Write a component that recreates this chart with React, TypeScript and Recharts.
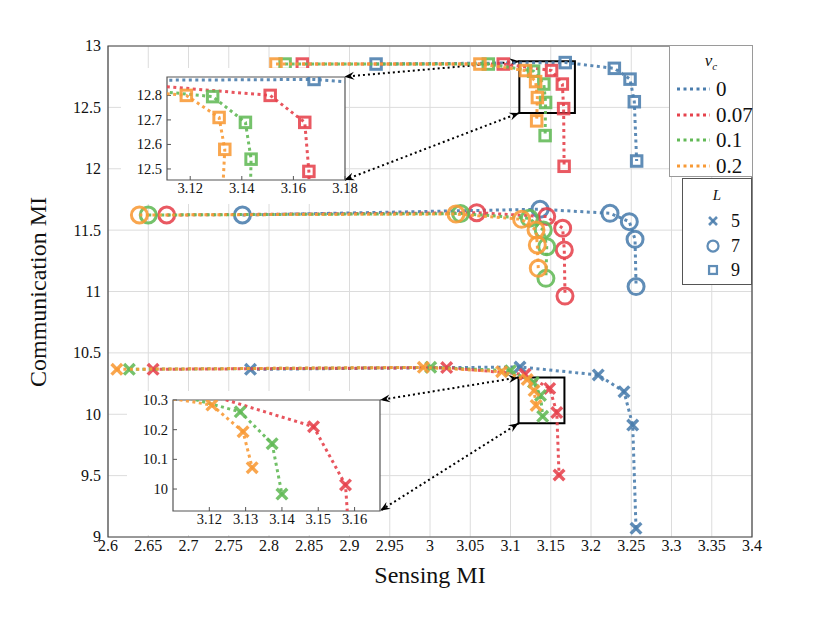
import React from 'react';
import {
  ScatterChart, Scatter, XAxis, YAxis, CartesianGrid, ReferenceArea, ReferenceLine
} from 'recharts';

// legend entries
const nuLabels = ['0', '0.07', '0.1', '0.2'];
const nuColors = ['#4A7DAD', '#E6424C', '#62B956', '#F89A36'];
const lLabels = ['5', '7', '9'];

// L = 5 (crosses)
const cross_nu0 = [
  { x: 2.777, y: 10.366 }, { x: 3.1118, y: 10.385 }, { x: 3.209, y: 10.32 },
  { x: 3.241, y: 10.184 }, { x: 3.2518, y: 9.912 }, { x: 3.2559, y: 9.071 },
];
const cross_nu007 = [
  { x: 2.656, y: 10.366 }, { x: 3.0207, y: 10.38 }, { x: 3.118, y: 10.325 },
  { x: 3.1487, y: 10.21 }, { x: 3.1575, y: 10.014 }, { x: 3.1603, y: 9.505 },
];
const cross_nu01 = [
  { x: 2.6265, y: 10.366 }, { x: 3.0009, y: 10.382 }, { x: 3.1, y: 10.355 },
  { x: 3.1285, y: 10.26 }, { x: 3.1373, y: 10.153 }, { x: 3.14, y: 9.983 },
];
const cross_nu02 = [
  { x: 2.611, y: 10.366 }, { x: 2.9917, y: 10.382 }, { x: 3.089, y: 10.347 },
  { x: 3.1207, y: 10.283 }, { x: 3.1293, y: 10.193 }, { x: 3.1318, y: 10.072 },
];

// L = 7 (circles)
const circ_nu0 = [
  { x: 2.767, y: 11.623 }, { x: 3.1367, y: 11.67 }, { x: 3.2236, y: 11.637 },
  { x: 3.2476, y: 11.569 }, { x: 3.2547, y: 11.425 }, { x: 3.256, y: 11.04 },
];
const circ_nu007 = [
  { x: 2.6729, y: 11.623 }, { x: 3.058, y: 11.642 }, { x: 3.145, y: 11.61 },
  { x: 3.1648, y: 11.515 }, { x: 3.1668, y: 11.338 }, { x: 3.1677, y: 10.963 },
];
const circ_nu01 = [
  { x: 2.65, y: 11.623 }, { x: 3.038, y: 11.635 }, { x: 3.1234, y: 11.596 },
  { x: 3.1407, y: 11.501 }, { x: 3.145, y: 11.365 }, { x: 3.144, y: 11.107 },
];
const circ_nu02 = [
  { x: 2.639, y: 11.623 }, { x: 3.0323, y: 11.631 }, { x: 3.1138, y: 11.588 },
  { x: 3.1317, y: 11.501 }, { x: 3.1333, y: 11.379 }, { x: 3.1345, y: 11.189 },
];

// L = 9 (squares)
const sq_nu0 = [
  { x: 2.933, y: 12.853 }, { x: 3.168, y: 12.865 }, { x: 3.229, y: 12.818 },
  { x: 3.2485, y: 12.73 }, { x: 3.2538, y: 12.546 }, { x: 3.2567, y: 12.063 },
];
const sq_nu007 = [
  { x: 2.8414, y: 12.853 }, { x: 3.091, y: 12.853 }, { x: 3.151, y: 12.8 },
  { x: 3.1644, y: 12.69 }, { x: 3.166, y: 12.49 }, { x: 3.1666, y: 12.02 },
];
const sq_nu01 = [
  { x: 2.82, y: 12.853 }, { x: 3.0724, y: 12.853 }, { x: 3.1287, y: 12.795 },
  { x: 3.1414, y: 12.69 }, { x: 3.1436, y: 12.54 }, { x: 3.143, y: 12.27 },
];
const sq_nu02 = [
  { x: 2.8087, y: 12.853 }, { x: 3.062, y: 12.853 }, { x: 3.1185, y: 12.8 },
  { x: 3.1312, y: 12.71 }, { x: 3.1334, y: 12.58 }, { x: 3.1325, y: 12.39 },
];

const crossSeries = [cross_nu0, cross_nu007, cross_nu01, cross_nu02];
const circSeries = [circ_nu0, circ_nu007, circ_nu01, circ_nu02];
const sqSeries = [sq_nu0, sq_nu007, sq_nu01, sq_nu02];

// main axes
const xDomain = [2.6, 3.4];
const yDomain = [9, 13];
const xTicks = [2.6, 2.65, 2.7, 2.75, 2.8, 2.85, 2.9, 2.95, 3, 3.05, 3.1, 3.15, 3.2, 3.25, 3.3, 3.35, 3.4];
const yTicks = [9, 9.5, 10, 10.5, 11, 11.5, 12, 12.5, 13];

// zoomed windows
const topZoomX = [3.111, 3.18];
const topZoomY = [12.455, 12.875];
const topZoomXTicks = [3.12, 3.14, 3.16, 3.18];
const topZoomYTicks = [12.5, 12.6, 12.7, 12.8];
const lowZoomX = [3.11, 3.167];
const lowZoomY = [9.926, 10.3];
const lowZoomXTicks = [3.12, 3.13, 3.14, 3.15, 3.16];
const lowZoomYTicks = [10, 10.1, 10.2, 10.3];

// where the insets sit, in main-chart units
const topInsetAt = { x: [2.673, 2.8935], y: [11.908, 12.75] };
const lowInsetAt = { x: [2.6804, 2.938], y: [9.214, 10.116] };

// main plot box in container pixels
const W = 814;
const H = 607;
const M = { top: 38, right: 70, bottom: 48, left: 40 };
const Y_W = 60;
const X_H = 30;
const plotL = M.left + Y_W;
const plotT = M.top;
const plotW = W - M.right - plotL;
const plotH = H - M.bottom - X_H - plotT;
const px = (v: number) => plotL + ((v - xDomain[0]) / (xDomain[1] - xDomain[0])) * plotW;
const py = (v: number) => plotT + ((yDomain[1] - v) / (yDomain[1] - yDomain[0])) * plotH;

const FONT = '"Liberation Serif", "DejaVu Serif", serif';
const DASH = '3 3.5';

const makeTick = (size: number, axis: 'x' | 'y') => (props: any) => {
  const { x, y, payload, textAnchor } = props;
  return (
    <text x={x} y={y} textAnchor={axis === 'x' ? 'middle' : textAnchor || 'end'}
      dy={axis === 'x' ? '0.71em' : '0.34em'} fontFamily={FONT} fontSize={size} fill="#111">
      {payload.value}
    </text>
  );
};

const Marker = ({ cx, cy, kind, color, small }: any) => {
  if (cx == null || cy == null) return null;
  const k = small ? 0.75 : 1;
  if (kind === 'cross') {
    const a = 5.3 * k;
    return (
      <g stroke={color} strokeWidth={3.4 * k} strokeOpacity={0.88}>
        <line x1={cx - a} y1={cy - a} x2={cx + a} y2={cy + a} />
        <line x1={cx - a} y1={cy + a} x2={cx + a} y2={cy - a} />
      </g>
    );
  }
  if (kind === 'circle') {
    return <circle cx={cx} cy={cy} r={8 * k - (small ? 0.5 : 0)} fill="none" stroke={color} strokeWidth={3 * k} strokeOpacity={0.88} />;
  }
  const s = 10.5 * k;
  return <rect x={cx - s / 2} y={cy - s / 2} width={s} height={s} fill="none" stroke={color} strokeWidth={3 * k} strokeOpacity={0.88} />;
};

const renderGroup = (series: any[], kind: string, tag: string) =>
  series.map((data, i) => (
    <Scatter
      key={`${tag}-${kind}-${i}`}
      data={data}
      line={{ stroke: nuColors[i], strokeWidth: 3, strokeDasharray: DASH, strokeOpacity: 0.9 }}
      lineType="joint"
      shape={(p: any) => <Marker cx={p.cx} cy={p.cy} kind={kind} color={nuColors[i]} />}
      isAnimationActive={false}
    />
  ));

// dotted connector with a head at both ends
const Connector = (props: any) => {
  const x1 = Number(props.x1);
  const y1 = Number(props.y1);
  const x2 = Number(props.x2);
  const y2 = Number(props.y2);
  if (!isFinite(x1)) return null;
  const a = Math.atan2(y2 - y1, x2 - x1);
  const head = (x: number, y: number, t: number) => {
    const len = 10;
    const w = 4;
    const bx = x - len * Math.cos(t);
    const by = y - len * Math.sin(t);
    return `${x},${y} ${bx - w * Math.sin(t)},${by + w * Math.cos(t)} ${x - 6.5 * Math.cos(t)},${y - 6.5 * Math.sin(t)} ${bx + w * Math.sin(t)},${by - w * Math.cos(t)}`;
  };
  return (
    <g>
      <line x1={x1} y1={y1} x2={x2} y2={y2} stroke="#000" strokeWidth={2} strokeDasharray="2 3" />
      <polygon points={head(x2, y2, a)} fill="#000" />
      <polygon points={head(x1, y1, a + Math.PI)} fill="#000" />
    </g>
  );
};

const Inset = ({ at, xd, yd, xt, yt, series, kind }: any) => {
  const l = px(at.x[0]);
  const r = px(at.x[1]);
  const t = py(at.y[1]);
  const b = py(at.y[0]);
  const yw = 46;
  const xh = 24;
  const mt = 9;
  const mr = 14;
  const left = Math.round(l - yw);
  const top = Math.round(t - mt);
  const w = Math.round(r - l + yw + mr);
  const h = Math.round(b - t + xh + mt);
  return (
    <>
      <div style={{ position: 'absolute', left, top, width: w - mr, height: h, background: '#fff' }} />
      <div style={{ position: 'absolute', left, top }}>
        <ScatterChart width={w} height={h} margin={{ top: mt, right: mr, bottom: 0, left: 0 }}>
          <XAxis type="number" dataKey="x" domain={xd} ticks={xt} interval={0} allowDataOverflow
            height={xh} axisLine={false} tickSize={-4} tickMargin={7} tickLine={{ stroke: '#555' }} tick={makeTick(14.5, 'x')} />
          <YAxis type="number" dataKey="y" domain={yd} ticks={yt} interval={0} allowDataOverflow
            width={yw} axisLine={false} tickSize={-4} tickMargin={9} tickLine={{ stroke: '#555' }} tick={makeTick(14.5, 'y')} />
          {renderGroup(series, kind, 'inset')}
          <ReferenceArea x1={xd[0]} x2={xd[1]} y1={yd[0]} y2={yd[1]} fill="none" stroke="#555" strokeWidth={1.2} fillOpacity={0} />
        </ScatterChart>
      </div>
    </>
  );
};

const App = () => {
  return (
    <div style={{ position: 'relative', width: W, height: H, fontFamily: FONT, color: '#111' }}>
      <ScatterChart width={W} height={H} margin={M}>
        <CartesianGrid stroke="#dcdcdc" strokeWidth={1} />
        <XAxis type="number" dataKey="x" domain={xDomain} ticks={xTicks} interval={0}
          height={X_H} axisLine={false} tickLine={false} tickSize={0} tickMargin={3} tick={makeTick(16, 'x')} />
        <YAxis type="number" dataKey="y" domain={yDomain} ticks={yTicks} interval={0}
          width={Y_W} axisLine={false} tickLine={false} tickSize={0} tickMargin={7} tick={makeTick(16, 'y')} />
        <ReferenceArea x1={xDomain[0]} x2={xDomain[1]} y1={yDomain[0]} y2={yDomain[1]}
          fill="none" fillOpacity={0} stroke="#444" strokeWidth={1.2} />
        {renderGroup(sqSeries, 'square', 'main')}
        {renderGroup(circSeries, 'circle', 'main')}
        {renderGroup(crossSeries, 'cross', 'main')}
        <ReferenceArea x1={topZoomX[0]} x2={topZoomX[1]} y1={topZoomY[0]} y2={topZoomY[1]}
          fill="none" fillOpacity={0} stroke="#000" strokeWidth={2} />
        <ReferenceArea x1={lowZoomX[0]} x2={lowZoomX[1]} y1={lowZoomY[0]} y2={lowZoomY[1]}
          fill="none" fillOpacity={0} stroke="#000" strokeWidth={2} />
        <ReferenceLine segment={[{ x: topZoomX[0], y: topZoomY[1] }, { x: topInsetAt.x[1], y: topInsetAt.y[1] }]} shape={Connector} />
        <ReferenceLine segment={[{ x: topZoomX[0], y: topZoomY[0] }, { x: topInsetAt.x[1], y: topInsetAt.y[0] }]} shape={Connector} />
        <ReferenceLine segment={[{ x: lowZoomX[0], y: lowZoomY[1] }, { x: lowInsetAt.x[1], y: lowInsetAt.y[1] }]} shape={Connector} />
        <ReferenceLine segment={[{ x: lowZoomX[0], y: lowZoomY[0] }, { x: lowInsetAt.x[1], y: lowInsetAt.y[0] }]} shape={Connector} />
      </ScatterChart>

      <Inset at={topInsetAt} xd={topZoomX} yd={topZoomY} xt={topZoomXTicks} yt={topZoomYTicks} series={sqSeries} kind="square" />
      <Inset at={lowInsetAt} xd={lowZoomX} yd={lowZoomY} xt={lowZoomXTicks} yt={lowZoomYTicks} series={crossSeries} kind="cross" />

      {/* axis titles */}
      <div style={{ position: 'absolute', left: plotL + plotW / 2 - 150, top: 553, width: 300, textAlign: 'center', fontSize: 24, lineHeight: '28px' }}>
        Sensing MI
      </div>
      <div style={{
        position: 'absolute', left: 30 - 150, top: plotT + plotH / 2 - 14, width: 300, height: 28,
        textAlign: 'center', fontSize: 24, lineHeight: '28px', transform: 'rotate(-90deg)'
      }}>
        Communication MI
      </div>

      {/* nu_c legend */}
      <div style={{ position: 'absolute', left: 661, top: 37, width: 82, height: 130, background: '#fff', border: '1.5px solid #9a9a9a' }}>
        <div style={{ position: 'absolute', left: 0, width: 82, top: 5, textAlign: 'center', fontSize: 17, lineHeight: '20px' }}>
          <i>ν</i><sub style={{ fontSize: 11, fontStyle: 'italic' }}>c</sub>
        </div>
        {nuLabels.map((lab, i) => (
          <div key={lab} style={{ position: 'absolute', left: 6, top: 30 + i * 25.5, height: 26, display: 'flex', alignItems: 'center' }}>
            <svg width={34} height={8}>
              <line x1={1} y1={4} x2={34} y2={4} stroke={nuColors[i]} strokeWidth={3} strokeDasharray={DASH} />
            </svg>
            <span style={{ marginLeft: 6, fontSize: 21, lineHeight: '26px' }}>{lab}</span>
          </div>
        ))}
      </div>

      {/* L legend */}
      <div style={{ position: 'absolute', left: 674, top: 170, width: 68, height: 105, background: '#fff', border: '1.5px solid #555' }}>
        <div style={{ position: 'absolute', left: 0, width: 68, top: 7, textAlign: 'center', fontSize: 15, fontStyle: 'italic', lineHeight: '18px' }}>L</div>
        {lLabels.map((lab, i) => (
          <div key={lab} style={{ position: 'absolute', left: 22, top: 30 + i * 24.5, height: 24, display: 'flex', alignItems: 'center' }}>
            <svg width={16} height={16}>
              <Marker cx={8} cy={8} kind={['cross', 'circle', 'square'][i]} color={nuColors[0]} small />
            </svg>
            <span style={{ marginLeft: 10, fontSize: 18, lineHeight: '24px' }}>{lab}</span>
          </div>
        ))}
      </div>
    </div>
  );
};

export default App;
